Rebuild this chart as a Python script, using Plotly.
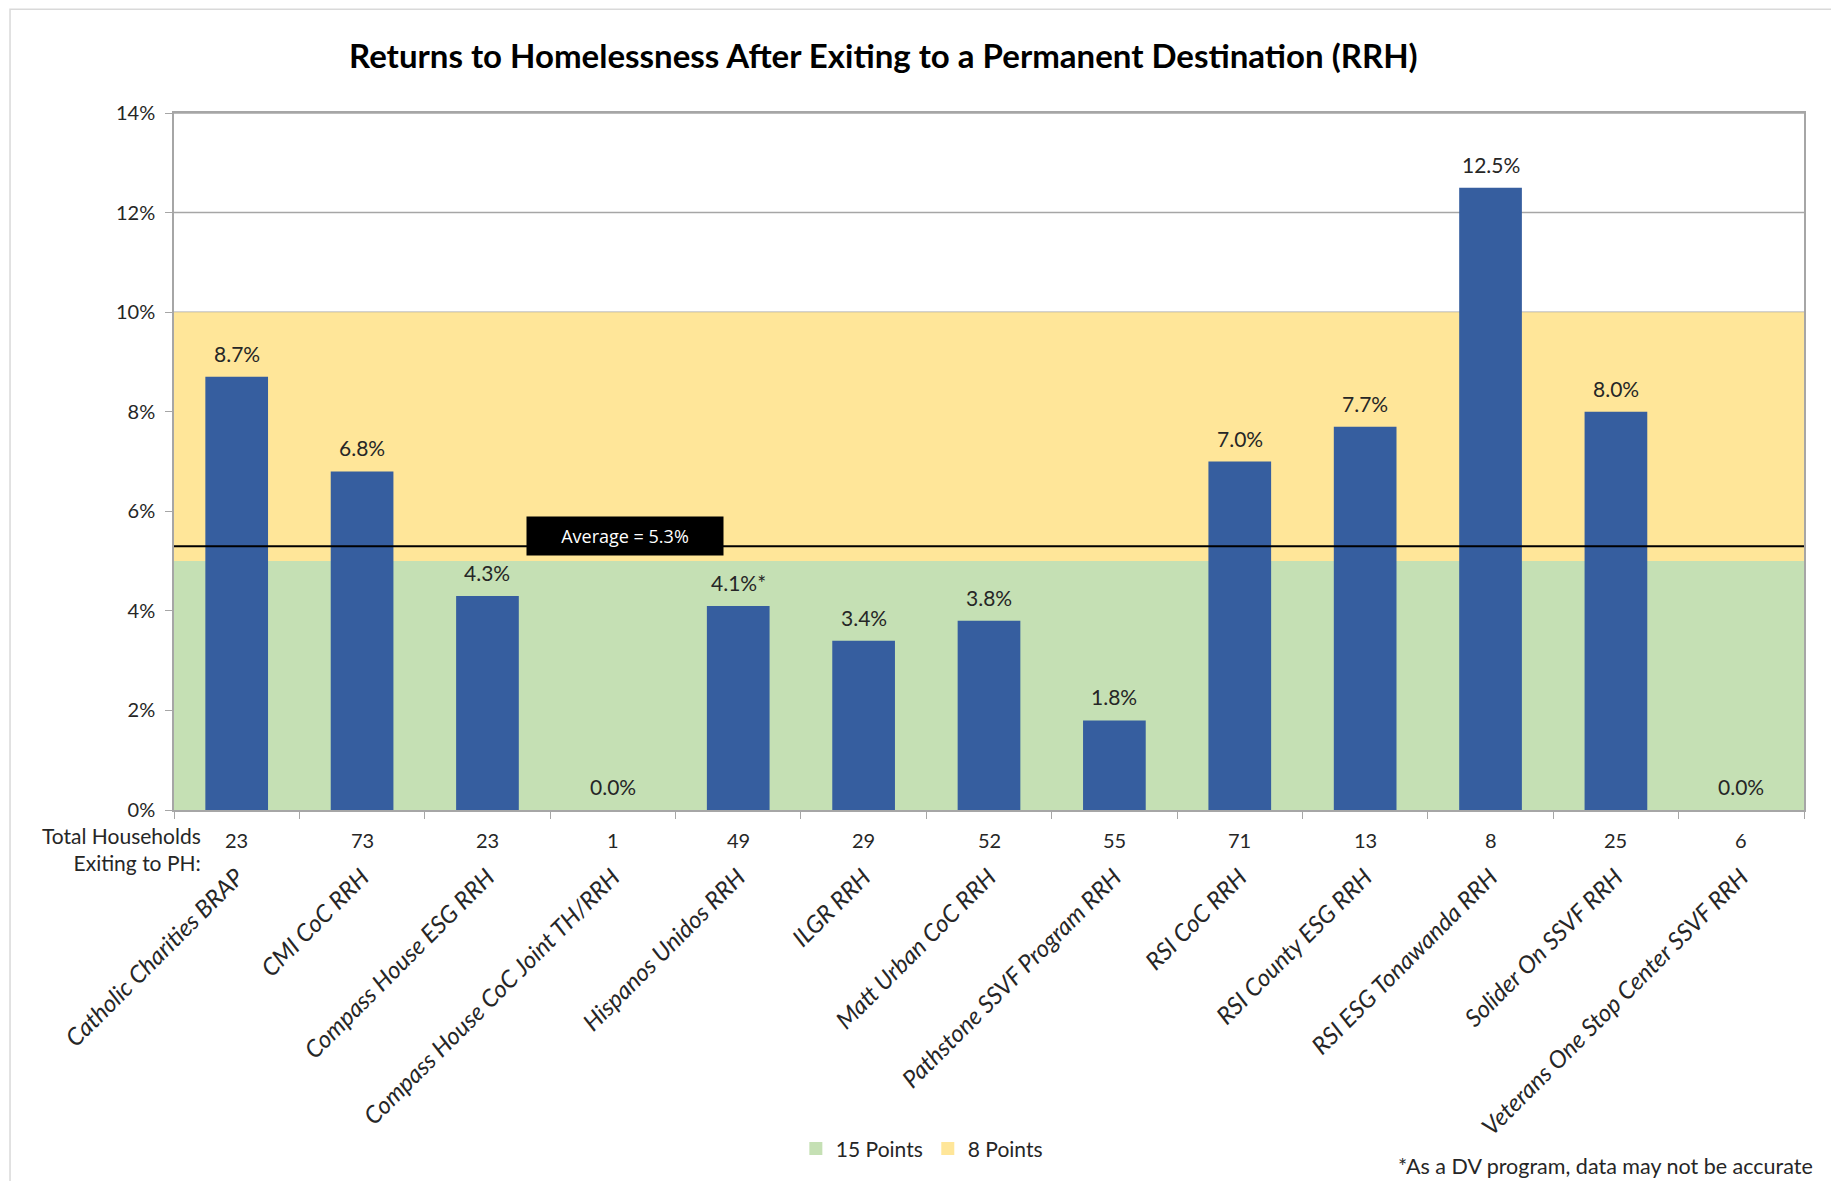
import plotly.graph_objects as go

categories = [
    "Catholic Charities BRAP", "CMI CoC RRH", "Compass House ESG RRH",
    "Compass House CoC Joint TH/RRH", "Hispanos Unidos RRH", "ILGR RRH",
    "Matt Urban CoC RRH", "Pathstone SSVF Program RRH", "RSI CoC RRH",
    "RSI County ESG RRH", "RSI ESG Tonawanda RRH", "Solider On SSVF RRH",
    "Veterans One Stop Center SSVF RRH",
]
return_rates = [8.7, 6.8, 4.3, 0.0, 4.1, 3.4, 3.8, 1.8, 7.0, 7.7, 12.5, 8.0, 0.0]
label_notes = ["", "", "", "", "*", "", "", "", "", "", "", "", ""]
households = [23, 73, 23, 1, 49, 29, 52, 55, 71, 13, 8, 25, 6]
average_rate = 5.3
band_15_points = (0, 5)
band_8_points = (5, 10)
y_ticks = [0, 2, 4, 6, 8, 10, 12, 14]

FONT = "Century Gothic, Lato, sans-serif"
BAR = "#365E9F"
GREEN = "#C5E0B4"
YELLOW = "#FFE699"
TXT = "#262626"
GRID = "#A6A6A6"

bar_text = [f"{v:.1f}%{n}" for v, n in zip(return_rates, label_notes)]

fig = go.Figure()
fig.add_trace(go.Bar(
    x=categories, y=return_rates, marker=dict(color=BAR, line=dict(width=0)),
    width=0.5, showlegend=False, hoverinfo="x+y",
))
fig.add_trace(go.Scatter(x=[None], y=[None], mode="markers", name="15 Points",
                         marker=dict(symbol="square", size=13, color=GREEN)))
fig.add_trace(go.Scatter(x=[None], y=[None], mode="markers", name="8 Points",
                         marker=dict(symbol="square", size=13, color=YELLOW)))

shapes = []
for t in y_ticks:
    shapes.append(dict(type="line", xref="paper", yref="y", x0=0, x1=1, y0=t, y1=t,
                       line=dict(color=GRID, width=1.5), layer="below"))
shapes += [
    dict(type="rect", xref="paper", yref="y", x0=0, x1=1, y0=band_15_points[0], y1=band_15_points[1],
         fillcolor=GREEN, line=dict(width=0), layer="below"),
    dict(type="rect", xref="paper", yref="y", x0=0, x1=1, y0=band_8_points[0], y1=band_8_points[1],
         fillcolor=YELLOW, line=dict(width=0), layer="below"),
    dict(type="line", xref="paper", yref="y", x0=0, x1=1, y0=average_rate, y1=average_rate,
         line=dict(color="black", width=2), layer="above"),
    dict(type="rect", xref="paper", yref="paper", x0=-0.1006, x1=1.019, y0=-0.6, y1=1.149,
         line=dict(color="#D9D9D9", width=1.5), fillcolor="rgba(0,0,0,0)", layer="below"),
]

annotations = [
    dict(text=f"Average = {average_rate}%", x=3.1, y=5.5, xref="x", yref="y",
         showarrow=False, bgcolor="black", width=194, height=36,
         font=dict(family="Open Sans, sans-serif", size=18, color="white"),
         xanchor="center", yanchor="middle"),
    dict(text="Total Households<br>Exiting to PH:", xref="paper", yref="paper", x=0.0178, y=-0.056,
         xanchor="right", yanchor="middle", align="right", showarrow=False,
         font=dict(family=FONT, size=21, color=TXT)),
    dict(text="*As a DV program, data may not be accurate", xref="paper", yref="paper",
         x=1.007, y=-0.511, xanchor="right", yanchor="middle", showarrow=False,
         font=dict(family=FONT, size=21.5, color=TXT)),
]
for c, h in zip(categories, households):
    annotations.append(dict(text=str(h), x=c, xref="x", yref="paper", y=-0.043,
                            xanchor="center", yanchor="middle", showarrow=False,
                            font=dict(family=FONT, size=20, color=TXT)))
for c, v, s in zip(categories, return_rates, bar_text):
    annotations.append(dict(text=s, x=c, y=v, xref="x", yref="y", xanchor="center",
                            yanchor="bottom", yshift=9, showarrow=False,
                            font=dict(family=FONT, size=21, color=TXT)))

fig.update_layout(
    width=1839, height=1181,
    margin=dict(l=166, r=43, t=105, b=379, autoexpand=False),
    paper_bgcolor="white", plot_bgcolor="white",
    title=dict(text="<b>Returns to Homelessness After Exiting to a Permanent Destination (RRH)</b>",
               x=0.476, xanchor="center", y=0.959, yanchor="middle",
               font=dict(family=FONT, size=33, color="black")),
    shapes=shapes, annotations=annotations,
    legend=dict(orientation="h", x=0.3815, y=-0.486, xanchor="left", yanchor="middle",
                font=dict(family=FONT, size=21, color=TXT), itemwidth=30, tracegroupgap=0,
                bgcolor="rgba(0,0,0,0)"),
    showlegend=True, bargap=0.5,
)
fig.update_xaxes(
    type="category", tickson="boundaries", ticks="outside", ticklen=7, tickcolor=GRID,
    showline=True, linecolor=GRID, linewidth=1.5, mirror=True, showgrid=False,
    tickangle=-45, ticklabelstandoff=42,
    tickfont=dict(family=FONT, size=24, color=TXT, style="italic"), automargin=False,
)
fig.update_yaxes(
    range=[0, 14], tickvals=y_ticks, ticktext=[f"{t}%" for t in y_ticks],
    ticks="outside", ticklen=7, tickcolor=GRID, ticklabelstandoff=6,
    showline=True, linecolor=GRID, linewidth=1.5, mirror=True,
    showgrid=False, zeroline=False,
    tickfont=dict(family=FONT, size=20, color=TXT), automargin=False,
)

fig.write_html("out.html")
